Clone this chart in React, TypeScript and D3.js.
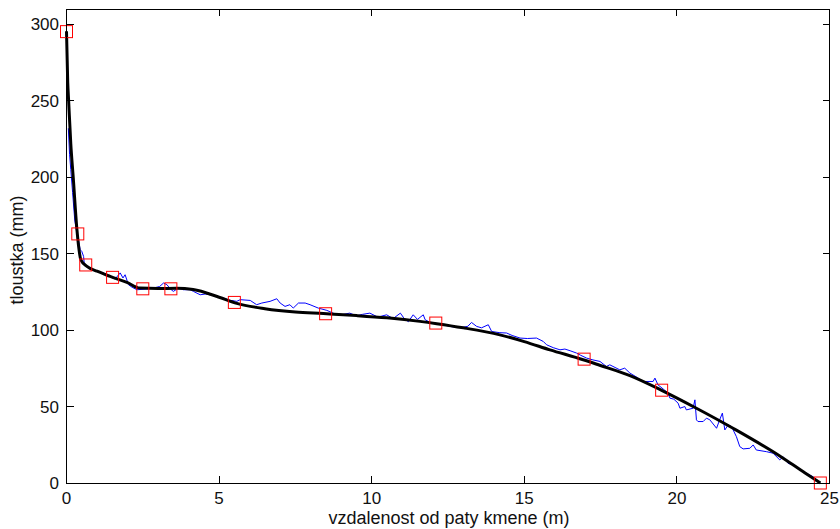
import React from "react";
import * as d3 from "d3";

const xTicks = [0, 5, 10, 15, 20, 25];
const yTicks = [0, 50, 100, 150, 200, 250, 300];

const markerX = [0, 0.37, 0.63, 1.51, 2.5, 3.42, 5.5, 8.49, 12.1, 16.96, 19.5, 24.7];
const markerY = [295.2, 162.9, 142.6, 134.5, 127, 127, 118.1, 110.7, 104.6, 81, 60.7, 0];

const fitX = [0, 0.04, 0.07, 0.14, 0.22, 0.34, 0.39, 0.47, 0.67, 1.0, 1.43, 2.0, 2.4, 3.0, 3.6, 4.15, 5.0, 5.58, 6.5, 7.5, 8.42, 9.5, 10.5, 11.58, 12.13, 13.0, 14.2, 15.0, 15.84, 16.93, 17.47, 18.46, 19.5, 20.64, 21.84, 23.37, 24.2, 24.7];
const fitY = [295.4, 262, 250, 222, 200, 166, 156, 146, 141.7, 138.5, 135.1, 131, 127.5, 127.2, 127.3, 126.5, 121.5, 117.5, 114, 111.8, 110.8, 109.5, 108, 105.7, 104.2, 101.5, 96.9, 92.5, 87.1, 80.6, 77.0, 70.2, 60.6, 48.9, 35.8, 17.7, 6.5, 0];

const measX = [0.06, 0.1, 0.14, 0.2, 0.27, 0.32, 0.4, 0.45, 0.5, 0.56, 0.58, 0.7, 0.83, 1.0, 1.21, 1.43, 1.59, 1.76, 1.85, 1.92, 2.03, 2.15, 2.31, 2.6, 2.85, 3.05, 3.18, 3.29, 3.4, 3.5, 3.67, 3.83, 4.05, 4.16, 4.38, 4.55, 4.71, 4.9, 5.14, 5.35, 5.58, 5.69, 6.02, 6.23, 6.4, 6.67, 6.89, 7.0, 7.16, 7.32, 7.43, 7.6, 7.82, 7.98, 8.25, 8.53, 8.8, 9.05, 9.28, 9.5, 9.7, 9.94, 10.2, 10.49, 10.7, 10.94, 11.05, 11.2, 11.36, 11.5, 11.69, 11.75, 11.9, 12.13, 12.35, 12.56, 12.8, 13.0, 13.15, 13.27, 13.44, 13.6, 13.82, 13.93, 14.2, 14.42, 14.6, 14.86, 15.1, 15.4, 15.62, 15.73, 15.95, 16.17, 16.33, 16.5, 16.71, 16.85, 17.04, 17.25, 17.48, 17.69, 17.8, 18.13, 18.29, 18.46, 18.7, 18.89, 19.22, 19.28, 19.38, 19.55, 19.71, 19.77, 19.9, 20.04, 20.1, 20.26, 20.31, 20.53, 20.59, 20.64, 20.69, 20.86, 20.97, 21.08, 21.3, 21.4, 21.49, 21.57, 21.68, 21.79, 21.95, 22.06, 22.17, 22.39, 22.5, 22.6, 22.93, 23.15, 23.37, 23.48, 23.64, 23.8, 24.02, 24.24, 24.46, 24.62, 24.7];
const measY = [232, 215, 205, 190, 172, 165.7, 158, 152.5, 151.5, 148.2, 143.9, 141, 139.5, 138.3, 137.4, 135.1, 133.4, 137.4, 134.1, 136.2, 129.7, 128, 126.4, 126.8, 127.5, 128.5, 130.8, 129.7, 127, 125.3, 127.5, 126.4, 126.4, 125.3, 123.1, 123.6, 123.1, 122, 121, 119.5, 118.8, 119.9, 119.4, 116.6, 117.7, 118.8, 120.5, 117.7, 115.5, 116.6, 114.4, 117.7, 117.7, 116.6, 114.4, 112.9, 110.5, 110.2, 111.1, 109.3, 110.3, 111.1, 108.5, 110, 107.5, 111.1, 108, 105.5, 110, 107, 110, 106.8, 105.2, 104.4, 103.5, 102.4, 101.8, 101.8, 102.5, 105, 102.4, 101.5, 103.5, 99.1, 98.3, 98.1, 96.5, 94.8, 94.5, 94.8, 92.6, 90.4, 88.5, 87.1, 87.6, 86.5, 85, 83.5, 81.7, 80.5, 79.5, 76.2, 77.3, 74, 75.1, 71.9, 69, 66.4, 66.4, 68.6, 64.2, 61.5, 58.8, 55.5, 54.8, 52.2, 48.9, 50, 47.8, 48.9, 54.4, 41.3, 40.2, 40.2, 42.4, 41.3, 35.8, 41.3, 45.7, 34.7, 38, 36.9, 30.3, 23.8, 22.3, 22.7, 24.9, 21.6, 20.5, 19.5, 15.1, 17.2, 12.9, 11.8, 8.5, 6.4, 4.1, 1.5, 0];

const W = 840;
const H = 529;
const L = 66.5, R = 829.5, T = 9, B = 483;
const FONT = "'Liberation Sans', Arial, sans-serif";

export default function App() {
  const x = d3.scaleLinear().domain([0, 25]).range([L, R]);
  const y = d3.scaleLinear().domain([0, 310]).range([B, T]);

  const meas = measX.map((v, i) => [v, measY[i]] as [number, number]);
  const fit = fitX.map((v, i) => [v, fitY[i]] as [number, number]);

  const line = d3
    .line<[number, number]>()
    .x((d) => x(d[0]))
    .y((d) => y(d[1]));
  const smooth = d3
    .line<[number, number]>()
    .x((d) => x(d[0]))
    .y((d) => y(d[1]))
    .curve(d3.curveMonotoneX);

  const tl = 7;
  const sq = 12;

  return (
    <svg
      width={W}
      height={H}
      style={{ position: "absolute", left: 0, top: 0, background: "#fff" }}
    >
      <rect x={0} y={0} width={W} height={H} fill="#fff" />
      <path d={line(meas) || ""} fill="none" stroke="#0000ff" strokeWidth={1} />
      <path d={smooth(fit) || ""} fill="none" stroke="#000" strokeWidth={3} strokeLinejoin="round" />
      {markerX.map((v, i) => (
        <rect
          key={i}
          x={x(v) - sq / 2}
          y={y(markerY[i]) - sq / 2}
          width={sq}
          height={sq}
          fill="none"
          stroke="#ff0000"
          strokeWidth={1}
        />
      ))}
      <g shapeRendering="crispEdges" stroke="#000" strokeWidth={1}>
        <rect x={L} y={T} width={R - L} height={B - T} fill="none" />
        {xTicks.map((t) => (
          <g key={"x" + t}>
            <line x1={x(t)} x2={x(t)} y1={B} y2={B - tl} />
            <line x1={x(t)} x2={x(t)} y1={T} y2={T + tl} />
          </g>
        ))}
        {yTicks.map((t) => (
          <g key={"y" + t}>
            <line x1={L} x2={L + tl} y1={y(t)} y2={y(t)} />
            <line x1={R} x2={R - tl} y1={y(t)} y2={y(t)} />
          </g>
        ))}
      </g>
      <g fontFamily={FONT} fontSize={17} fill="#111">
        {xTicks.map((t) => (
          <text key={"xl" + t} x={x(t)} y={504} textAnchor="middle">
            {t}
          </text>
        ))}
        {yTicks.map((t) => (
          <text key={"yl" + t} x={59} y={y(t) + 6} textAnchor="end">
            {t}
          </text>
        ))}
        <text x={449} y={524} textAnchor="middle" fontSize={18}>
          vzdalenost od paty kmene (m)
        </text>
        <text transform="translate(23,250) rotate(-90)" textAnchor="middle" fontSize={18}>
          tloustka (mm)
        </text>
      </g>
    </svg>
  );
}
